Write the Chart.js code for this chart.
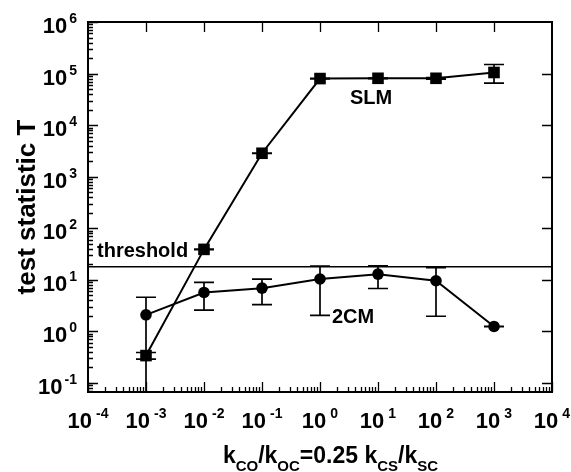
<!DOCTYPE html>
<html><head><meta charset="utf-8">
<script src="https://cdn.jsdelivr.net/npm/chart.js@4"></script>
<style>html,body{margin:0;padding:0;background:#fff}#wrap{width:571px;height:472px}</style>
</head><body><div id="wrap"><canvas id="c" width="571" height="472"></canvas></div>
<script>
// ---- data ----
const xValues   = [1e-3, 1e-2, 1e-1, 1, 10, 100, 1000];
const slmValues = [0.34, 39, 2850, 80000, 81000, 81000, 105000];
const slmLow    = [0.29, 38.5, 2820, 79000, 80000, 78000, 65000];
const slmHigh   = [0.39, 39.5, 2880, 81000, 82000, 84000, 150000];
const cmValues  = [2.1, 5.7, 6.9, 10.4, 12.9, 9.6, 1.25];
const cmLow     = [0.03, 2.6, 3.3, 2.05, 6.8, 1.97, 1.24];
const cmHigh    = [4.6, 8.9, 10.3, 18.5, 18.7, 17.3, 1.26];
const thresholdValue = 18;
const xTickExponents = [-4, -3, -2, -1, 0, 1, 2, 3, 4];
const yTickExponents = [-1, 0, 1, 2, 3, 4, 5, 6];
const seriesNames = ['SLM', '2CM'];
const thresholdLabel = 'threshold';
const yTitle = 'test statistic T';
const xTitleParts = [['k', 0], ['CO', 1], ['/k', 0], ['OC', 1], ['=0.25 k', 0], ['CS', 1], ['/k', 0], ['SC', 1]];

const FONT = '"Liberation Sans", Arial, sans-serif';
const mainFont = 'bold 22px ' + FONT;
const supFont = 'bold 14px ' + FONT;
const annFont = 'bold 20px ' + FONT;
const titleFont = 'bold 23px ' + FONT;
const titleSubFont = 'bold 15px ' + FONT;
const yTitleFont = 'bold 26px ' + FONT;

function pts(xs, ys) { return xs.map((x, i) => ({ x: x, y: ys[i] })); }

const axesPlugin = {
  id: 'axesPlugin',
  beforeDatasetsDraw(chart) {
    const ctx = chart.ctx, xs = chart.scales.x, ys = chart.scales.y, a = chart.chartArea;
    ctx.save();
    ctx.beginPath(); ctx.rect(a.left, a.top, a.right - a.left, a.bottom - a.top); ctx.clip();
    ctx.strokeStyle = '#000'; ctx.lineWidth = 1.7;
    const bars = [[slmLow, slmHigh], [cmLow, cmHigh]];
    bars.forEach(([lo, hi]) => {
      xValues.forEach((xv, i) => {
        const px = xs.getPixelForValue(xv);
        const y1 = ys.getPixelForValue(lo[i]), y2 = ys.getPixelForValue(hi[i]);
        ctx.beginPath();
        ctx.moveTo(px, y1); ctx.lineTo(px, y2);
        ctx.moveTo(px - 10, y1); ctx.lineTo(px + 10, y1);
        ctx.moveTo(px - 10, y2); ctx.lineTo(px + 10, y2);
        ctx.stroke();
      });
    });
    ctx.restore();
  },
  afterDraw(chart) {
    const ctx = chart.ctx, xs = chart.scales.x, ys = chart.scales.y, a = chart.chartArea;
    ctx.save();
    ctx.strokeStyle = '#000'; ctx.fillStyle = '#000';
    // frame
    ctx.lineWidth = 2;
    ctx.strokeRect(a.left, a.top, a.right - a.left, a.bottom - a.top);
    ctx.lineWidth = 1.3;
    ctx.beginPath();
    // y ticks
    for (let e = -2; e <= 6; e++) {
      for (let k = 1; k <= 9; k++) {
        const v = k * Math.pow(10, e);
        if (v < ys.min * 1.0001 || v > ys.max * 1.0001) continue;
        const py = Math.round(ys.getPixelForValue(v)) + 0.5;
        const len = k === 1 ? 10 : 5;
        ctx.moveTo(a.left, py); ctx.lineTo(a.left + len, py);
        if (k === 1 && v < ys.max * 0.999) { ctx.moveTo(a.right, py); ctx.lineTo(a.right - 10, py); }
      }
    }
    // x ticks
    for (let e = -4; e <= 4; e++) {
      for (let k = 1; k <= 9; k++) {
        const v = k * Math.pow(10, e);
        if (v < xs.min * 0.9999 || v > xs.max * 1.0001) continue;
        const px = Math.round(xs.getPixelForValue(v)) + 0.5;
        const len = k === 1 ? 10 : 5;
        ctx.moveTo(px, a.bottom); ctx.lineTo(px, a.bottom - len);
        if (k === 1 && v > xs.min * 1.001 && v < xs.max * 0.999) { ctx.moveTo(px, a.top); ctx.lineTo(px, a.top + 10); }
      }
    }
    ctx.stroke();

    // y tick labels
    ctx.textBaseline = 'alphabetic';
    ctx.textAlign = 'left';
    yTickExponents.forEach(e => {
      const py = ys.getPixelForValue(Math.pow(10, e));
      const sup = String(e);
      ctx.font = supFont; const ws = ctx.measureText(sup).width;
      ctx.font = mainFont; const wm = ctx.measureText('10').width;
      const right = a.left - 11;
      const x0 = right - ws - 2 - wm;
      ctx.font = mainFont; ctx.fillText('10', x0, py + 11);
      ctx.font = supFont; ctx.fillText(sup, x0 + wm + 2, py + 1);
    });
    // x tick labels
    const gapX = 4;
    xTickExponents.forEach(e => {
      const px = xs.getPixelForValue(Math.pow(10, e));
      const sup = String(e);
      ctx.font = supFont; const ws = ctx.measureText(sup).width;
      ctx.font = mainFont; const wm = ctx.measureText('10').width;
      const total = wm + gapX + ws;
      const x0 = px - total / 2;
      ctx.font = mainFont; ctx.fillText('10', x0, a.bottom + 36);
      ctx.font = supFont; ctx.fillText(sup, x0 + wm + gapX, a.bottom + 26);
    });
    // x title
    let tw = 0;
    xTitleParts.forEach(([t, s]) => { ctx.font = s ? titleSubFont : titleFont; tw += ctx.measureText(t).width; });
    let cx = 330.5 - tw / 2;
    xTitleParts.forEach(([t, s]) => {
      ctx.font = s ? titleSubFont : titleFont;
      ctx.fillText(t, cx, s ? 471 : 463);
      cx += ctx.measureText(t).width;
    });
    // y title
    ctx.save();
    ctx.translate(35, 207);
    ctx.rotate(-Math.PI / 2);
    ctx.font = yTitleFont; ctx.textAlign = 'center';
    ctx.fillText(yTitle, 0, 0);
    ctx.restore();
    // annotations
    ctx.font = annFont; ctx.textAlign = 'left';
    ctx.fillText(seriesNames[0], 350, 103.5);
    ctx.fillText(seriesNames[1], 332, 323);
    ctx.fillText(thresholdLabel, 97, 257);
    ctx.restore();
  }
};

new Chart(document.getElementById('c'), {
  type: 'scatter',
  data: {
    datasets: [
      { label: 'threshold', data: [{ x: 1e-4, y: thresholdValue }, { x: 1e4, y: thresholdValue }],
        showLine: true, borderColor: '#000', borderWidth: 1.5, pointRadius: 0, order: 3 },
      { label: seriesNames[0], data: pts(xValues, slmValues), showLine: true,
        borderColor: '#000', backgroundColor: '#000', borderWidth: 2,
        pointStyle: 'rect', pointRadius: 8.2, pointBorderWidth: 0, order: 2 },
      { label: seriesNames[1], data: pts(xValues, cmValues), showLine: true,
        borderColor: '#000', backgroundColor: '#000', borderWidth: 2,
        pointStyle: 'circle', pointRadius: 5.8, pointBorderWidth: 0, order: 1 }
    ]
  },
  options: {
    responsive: false, animation: false, devicePixelRatio: 1,
    layout: { padding: { left: 88, right: 19, top: 22, bottom: 80 } },
    plugins: { legend: { display: false }, tooltip: { enabled: false } },
    scales: {
      x: { type: 'logarithmic', min: 1e-4, max: 1e4, display: false },
      y: { type: 'logarithmic', min: 0.0669, max: 1e6, display: false }
    }
  },
  plugins: [axesPlugin]
});
</script></body></html>
